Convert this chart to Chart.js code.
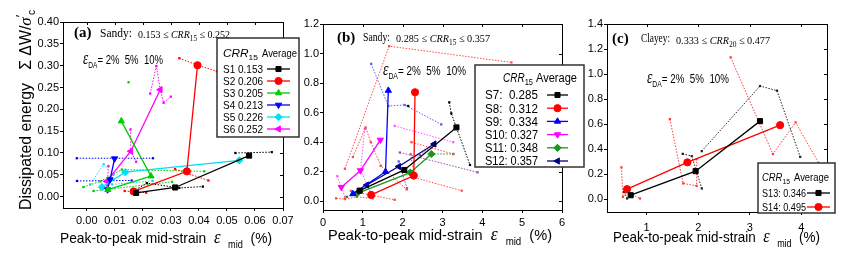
<!DOCTYPE html>
<html>
<head>
<meta charset="utf-8">
<script src="https://cdn.jsdelivr.net/npm/chart.js@4/dist/chart.umd.min.js"></script>
<style>
  html, body { margin: 0; padding: 0; background: #fff; }
  #wrap { position: relative; width: 849px; height: 263px; }
  canvas { position: absolute; left: 0; top: 0; }
</style>
</head>
<body>
<div id="wrap">
  <canvas id="chartA" width="849" height="263"></canvas>
  <canvas id="chartB" width="849" height="263"></canvas>
  <canvas id="chartC" width="849" height="263"></canvas>
</div>
<script>
// ---- panel (a): sandy, low CRR ----
const labelsA = ['S1 0.153', 'S2 0.206', 'S3 0.205', 'S4 0.213', 'S5 0.226', 'S6 0.252'];
const xTicksA = [0, 0.01, 0.02, 0.03, 0.04, 0.05, 0.06, 0.07];
const yTicksA = [0, 0.05, 0.10, 0.15, 0.20, 0.25, 0.30, 0.35, 0.40];
const s1Avg = [[0.0176, 0.0085], [0.0315, 0.021], [0.0579, 0.094]];
const s1Tests = [[[0.0165, 0.012], [0.0214, 0.031], [0.033, 0.02], [0.0414, 0.023]], [[0.053, 0.100], [0.066, 0.102]]];
const s2Avg = [[0.0167, 0.012], [0.0357, 0.058], [0.0395, 0.301]];
const s2Tests = [[[0.0135, 0.013], [0.0212, 0.009]], [[0.0315, 0.063], [0.0434, 0.037]], [[0.033, 0.317], [0.0395, 0.301], [0.0464, 0.287]]];
const s3Avg = [[0.0075, 0.016], [0.0229, 0.047], [0.0123, 0.173]];
const s3Tests = [[[-0.0012, 0.022], [0.0048, 0.035], [0.0125, 0.062], [0.0419, 0.058]], [[0.0024, 0.013], [0.0304, 0.034]], [[0.0149, 0.262]]];
const s4Avg = [[0.0074, 0.016], [0.0083, 0.039], [0.0099, 0.087]];
const s4Tests = [[[-0.0036, 0.088], [0.0236, 0.088]], [[-0.0035, 0.036], [0.016, 0.037]]];
const s5Avg = [[0.0054, 0.022], [0.0137, 0.056], [0.0544, 0.083]];
const s5Tests = [[[0.0012, 0.028], [0.006, 0.074], [0.0095, 0.05]], [[0.009, 0.028], [0.0235, 0.036]]];
const s6Avg = [[0.0071, 0.035], [0.0157, 0.104], [0.0262, 0.245]];
const s6Tests = [[[0.0077, 0.07], [0.0073, 0.025]], [[0.0156, 0.154], [0.0157, 0.104], [0.0176, 0.08]],
                 [[0.0226, 0.236], [0.0248, 0.299], [0.0262, 0.245], [0.0274, 0.215], [0.030, 0.229]]];

// ---- panel (b): sandy, higher CRR ----
const labelsB = ['S7:  0.285', 'S8:  0.312', 'S9:  0.334', 'S10: 0.327', 'S11: 0.348', 'S12: 0.357'];
const xTicksB = [0, 1, 2, 3, 4, 5, 6];
const yTicksB = [0, 0.2, 0.4, 0.6, 0.8, 1.0, 1.2];
const s7Avg = [[0.92, 0.072], [2.04, 0.212], [3.35, 0.50]];
const s7Tests = [[[3.17, 0.67], [3.22, 0.595], [3.69, 0.246]], [[2.14, 0.645]]];
const s8Avg = [[1.21, 0.043], [2.28, 0.174], [2.31, 0.738]];
const s8Tests = [[[0.55, 0.22], [1.66, 1.05], [4.73, 0.94]],
                 [[0.33, 0.02], [0.55, 0.015], [0.85, 0.03], [1.25, 0.02]],
                 [[0.75, 0.30], [1.07, 0.50], [1.2, 0.40], [1.45, 0.24], [2.1, 0.08]],
                 [[0.7, 0.07], [1.8, 0.01]],
                 [[2.2, 0.32], [2.3, 0.16], [3.48, 0.072]],
                 [[2.22, 0.40], [3.27, 0.32]]];
const s9Avg = [[0.75, 0.05], [1.57, 0.2], [1.64, 0.75]];
const s9Tests = [[[1.21, 0.93], [1.64, 0.645], [2.05, 0.652], [2.97, 0.52]], [[1.9, 0.27], [2.11, 0.088]]];
const s10Avg = [[0.46, 0.095], [0.94, 0.208], [1.44, 0.415]];
const s10Tests = [[[0.36, 0.17], [0.46, 0.095], [0.55, 0.03]], [[1.05, 0.49], [0.94, 0.21], [1.2, 0.06]], [[1.8, 0.51], [3.27, 0.40]]];
const s11Avg = [[0.86, 0.054], [2.19, 0.194], [2.72, 0.32]];
const s11Tests = [[[2.72, 0.32], [3.27, 0.32]], [[0.6, 0.03], [0.86, 0.054]]];
const s12Avg = [[1.1, 0.11], [1.9, 0.235], [2.79, 0.388]];
const s12Tests = [[[1.93, 0.33], [3.88, 0.196]], [[2.43, 0.313], [2.79, 0.388]]];

// ---- panel (c): clayey ----
const labelsC = ['S13: 0.346', 'S14: 0.495'];
const xTicksC = [1, 2, 3, 4];
const yTicksC = [0, 0.2, 0.4, 0.6, 0.8, 1.0, 1.2, 1.4];
const s13Avg = [[0.69, 0.034], [1.95, 0.226], [3.2, 0.625]];
const s13Tests = [[[0.56, 0.06], [0.62, 0.008]], [[1.70, 0.364], [1.875, 0.346], [2.07, 0.088]],
                  [[2.07, 0.386], [3.2, 0.905], [3.53, 0.868], [3.98, 0.34]]];
const s14Avg = [[0.62, 0.082], [1.79, 0.296], [3.59, 0.593]];
const s14Tests = [[[0.51, 0.256], [0.54, 0.02], [0.62, 0.06], [0.87, 0.008]], [[1.45, 0.641], [1.71, 0.128], [1.97, 0.108], [1.97, 0.322]],
                  [[2.63, 1.134], [3.45, 0.362], [3.89, 0.615], [4.34, 0.29]]];

const SANS = '"Liberation Sans", Arial, sans-serif';
const SERIF = '"Liberation Serif", "Times New Roman", serif';

// marker styles per sample slot
const styles = ['rect', 'circle', 'triangle', 'triangle', 'rectRot', 'triangle'];
const rots = [0, 0, 0, 180, 0, 270];

const pts = a => a.map(p => ({ x: p[0], y: p[1] }));

function makeDatasets(avgs, tests, labels, colors, testColors) {
  const out = [];
  avgs.forEach((avg, i) => {
    tests[i].forEach(t => out.push({
      data: pts(t), showLine: true,
      borderColor: testColors[i], backgroundColor: testColors[i],
      borderWidth: 1, borderDash: [1.5, 1.5],
      pointStyle: 'rect', pointRadius: 1.6, pointBorderWidth: 0, order: 2
    }));
    out.push({
      label: labels[i], data: pts(avg), showLine: true,
      borderColor: colors[i], backgroundColor: colors[i], borderWidth: 1.3,
      pointStyle: styles[i], rotation: rots[i], pointRadius: 3.6, pointBorderWidth: 1, order: 1
    });
  });
  return out;
}

// draw a run of text pieces [text, font, dy], optionally squeezed to a width / rotated
function rich(ctx, x, y, parts, width, angle) {
  let total = 0;
  parts.forEach(p => { ctx.font = p[1]; total += ctx.measureText(p[0]).width; });
  const sx = width ? width / total : 1;
  ctx.save();
  ctx.translate(x, y);
  if (angle) ctx.rotate(angle);
  ctx.scale(sx, 1);
  ctx.textAlign = 'left';
  ctx.textBaseline = 'alphabetic';
  let cx = 0;
  parts.forEach(p => {
    ctx.font = p[1];
    ctx.fillText(p[0], cx, p[2] || 0);
    cx += ctx.measureText(p[0]).width;
  });
  ctx.restore();
}

function drawLegend(chart, L) {
  const ctx = chart.ctx;
  const items = chart.data.datasets.filter(d => d.label);
  ctx.save();
  ctx.fillStyle = '#fff';
  ctx.fillRect(L.x, L.y, L.w, L.h);
  ctx.strokeStyle = '#333';
  ctx.lineWidth = 1.5;
  ctx.strokeRect(L.x, L.y, L.w, L.h);
  ctx.fillStyle = '#000';
  rich(ctx, L.hx, L.hy, [['CRR', 'italic ' + L.size + 'px ' + SANS], [L.sub, (L.size - 3) + 'px ' + SANS, 3]], L.crrW);
  rich(ctx, L.ax, L.hy, [['Average', L.size + 'px ' + SANS]], L.avgW);
  items.forEach((d, i) => {
    const yy = L.y0 + i * L.dy;
    ctx.fillStyle = '#000';
    rich(ctx, L.tx, yy + L.size * 0.36, [[d.label, L.size + 'px ' + SANS]], L.tw);
    ctx.strokeStyle = d.borderColor;
    ctx.lineWidth = 1.3;
    ctx.beginPath();
    ctx.moveTo(L.lx1, yy);
    ctx.lineTo(L.lx2, yy);
    ctx.stroke();
    ctx.fillStyle = d.borderColor;
    ctx.lineWidth = 1;
    Chart.helpers.drawPoint(ctx, { pointStyle: d.pointStyle, rotation: d.rotation, radius: 3.6, borderWidth: 1 }, (L.lx1 + L.lx2) / 2, yy);
  });
  ctx.restore();
}

function decor(cfg) {
  return {
    id: 'decor',
    afterDraw(chart) {
      const { ctx, chartArea: ca, scales } = chart;
      ctx.save();
      // frame + inward ticks on top/right
      ctx.strokeStyle = '#000';
      ctx.lineWidth = 1;
      ctx.strokeRect(Math.round(ca.left) + 0.5, Math.round(ca.top) + 0.5, Math.round(ca.right - ca.left), Math.round(ca.bottom - ca.top));
      ctx.beginPath();
      scales.x.ticks.forEach(t => {
        const px = Math.round(scales.x.getPixelForValue(t.value)) + 0.5;
        ctx.moveTo(px, ca.top); ctx.lineTo(px, ca.top + 3);
      });
      scales.y.ticks.forEach(t => {
        const py = Math.round(scales.y.getPixelForValue(t.value)) + 0.5;
        ctx.moveTo(ca.right, py); ctx.lineTo(ca.right - 3, py);
      });
      ctx.stroke();

      ctx.fillStyle = '#000';
      rich(ctx, cfg.tag[1], cfg.tag[2], [[cfg.tag[0], 'bold 15px ' + SERIF]]);
      rich(ctx, cfg.soil.x, cfg.soil.y, [[cfg.soil.t, '12px ' + SERIF]], cfg.soil.w);
      rich(ctx, cfg.range.x, cfg.range.y, [
        [cfg.range.lo + ' \u2264 ', '11px ' + SERIF],
        ['CRR', 'italic 11px ' + SERIF],
        [cfg.range.sub, '8px ' + SERIF, 3],
        [' \u2264 ' + cfg.range.hi, '11px ' + SERIF]
      ], cfg.range.w);
      rich(ctx, cfg.eps.x, cfg.eps.y, [
        ['\u03b5', 'italic 18px ' + SERIF],
        ['DA', '9px ' + SANS, 4],
        ['= 2%  5%  10%', '13px ' + SANS]
      ], cfg.eps.w);

      // x axis title
      rich(ctx, cfg.xt.x, cfg.xt.y, [
        ['Peak-to-peak mid-strain  ', '15px ' + SANS],
        ['\u03b5', 'italic 18px ' + SERIF],
        ['  ', '15px ' + SANS],
        ['mid', '10px ' + SANS, 5],
        ['  (%)', '15px ' + SANS]
      ], cfg.xt.w);

      if (cfg.yt) {
        rich(ctx, cfg.yt.x, cfg.yt.y, [
          ['Dissipated energy   \u03a3 \u0394W/', '16px ' + SANS],
          ['\u03c3', 'italic 17px ' + SERIF],
          ['\u2032', '13px ' + SANS, -6],
          ['c', '10px ' + SANS, 4]
        ], cfg.yt.w, -Math.PI / 2);
      }
      ctx.restore();
      drawLegend(chart, cfg.legend);
    }
  };
}

function makeChart(id, datasets, ax, cfg) {
  return new Chart(document.getElementById(id), {
    type: 'scatter',
    data: { datasets },
    options: {
      responsive: false,
      animation: false,
      layout: { padding: ax.pad },
      plugins: { legend: { display: false }, tooltip: { enabled: false } },
      scales: {
        x: {
          type: 'linear', min: ax.xMin, max: ax.xMax,
          afterBuildTicks: s => { s.ticks = ax.xTicks.map(v => ({ value: v })); },
          afterFit: s => { s.height = ax.xH; },
          grid: { drawOnChartArea: false, tickLength: 3, color: '#000' },
          border: { display: false },
          ticks: {
            color: '#000', padding: ax.xPad, maxRotation: 0, autoSkip: false,
            font: { family: SANS, size: 11 },
            callback: v => v.toFixed(ax.xDec)
          }
        },
        y: {
          type: 'linear', min: ax.yMin, max: ax.yMax,
          afterBuildTicks: s => { s.ticks = ax.yTicks.map(v => ({ value: v })); },
          afterFit: s => { s.width = ax.yW; },
          grid: { drawOnChartArea: false, tickLength: 3, color: '#000' },
          border: { display: false },
          ticks: {
            color: '#000', padding: 1, autoSkip: false,
            font: { family: SANS, size: 11 },
            callback: v => v.toFixed(ax.yDec)
          }
        }
      }
    },
    plugins: [decor(cfg)]
  });
}

document.addEventListener('DOMContentLoaded', function () {
  const colorsA = ['#000000', '#ff0000', '#00cc00', '#0000ff', '#00e0f0', '#ff00ff'];
  const colorsB = ['#000000', '#ff0000', '#0000ff', '#ff00ff', '#1a961a', '#000080'];
  const testB = ['#000000', '#ff4a4a', '#5a5aff', '#ff55ff', '#1a961a', '#9050b0'];
  const colorsC = ['#000000', '#ff0000'];
  const testC = ['#222222', '#ff3a3a'];

  makeChart('chartA',
    makeDatasets([s1Avg, s2Avg, s3Avg, s4Avg, s5Avg, s6Avg], [s1Tests, s2Tests, s3Tests, s4Tests, s5Tests, s6Tests], labelsA, colorsA, colorsA),
    { pad: { left: 0, top: 22, right: 566, bottom: 0 }, xMin: -0.0085, xMax: 0.07, yMin: -0.026, yMax: 0.40,
      xTicks: xTicksA, yTicks: yTicksA, xDec: 2, yDec: 2, xH: 55, yW: 63, xPad: 3 },
    { tag: ['(a)', 74, 37], soil: { t: 'Sandy:', x: 100, y: 37, w: 32 }, range: { lo: '0.153', hi: '0.252', sub: '15', x: 138, y: 38, w: 92 },
      eps: { x: 83, y: 64, w: 80 }, xt: { x: 60, y: 243, w: 212 }, yt: { x: 31, y: 210, w: 200 },
      legend: { x: 217, y: 38, w: 82, h: 99, hx: 223, hy: 57, ax: 262, sub: '15', size: 10.5, crrW: 35, avgW: 35,
                tx: 223, tw: 40, y0: 69, dy: 12, lx1: 267, lx2: 290 } });

  makeChart('chartB',
    makeDatasets([s7Avg, s8Avg, s9Avg, s10Avg, s11Avg, s12Avg], [s7Tests, s8Tests, s9Tests, s10Tests, s11Tests, s12Tests], labelsB, colorsB, testB),
    { pad: { left: 300, top: 24, right: 287, bottom: 0 }, xMin: 0, xMax: 6, yMin: -0.059, yMax: 1.2,
      xTicks: xTicksB, yTicks: yTicksB, xDec: 0, yDec: 1, xH: 53, yW: 23, xPad: 3 },
    { tag: ['(b)', 337, 42], soil: { t: 'Sandy:', x: 363, y: 41, w: 27 }, range: { lo: '0.285', hi: '0.357', sub: '15', x: 396, y: 42, w: 94 },
      eps: { x: 383, y: 75, w: 83 }, xt: { x: 328, y: 240, w: 224 },
      legend: { x: 475, y: 65, w: 109, h: 102, hx: 503, hy: 82, ax: 536, sub: '15', size: 12, crrW: 30, avgW: 41,
                tx: 485, tw: 53, y0: 95, dy: 13.2, lx1: 547, lx2: 568 } });

  makeChart('chartC',
    makeDatasets([s13Avg, s14Avg], [s13Tests, s14Tests], labelsC, colorsC, testC),
    { pad: { left: 584, top: 24, right: 22, bottom: 0 }, xMin: 0.23, xMax: 4.5, yMin: -0.1, yMax: 1.4,
      xTicks: xTicksC, yTicks: yTicksC, xDec: 0, yDec: 1, xH: 51, yW: 23, xPad: 6 },
    { tag: ['(c)', 612, 43], soil: { t: 'Clayey:', x: 641, y: 42, w: 29 }, range: { lo: '0.333', hi: '0.477', sub: '20', x: 676, y: 44, w: 94 },
      eps: { x: 647, y: 83, w: 82 }, xt: { x: 613, y: 242, w: 207 },
      legend: { x: 758, y: 163, w: 77, h: 50, hx: 762, hy: 181, ax: 794, sub: '15', size: 11, crrW: 28, avgW: 35,
                tx: 762, tw: 44, y0: 193, dy: 14, lx1: 807, lx2: 830 } });
});
</script>
</body>
</html>
